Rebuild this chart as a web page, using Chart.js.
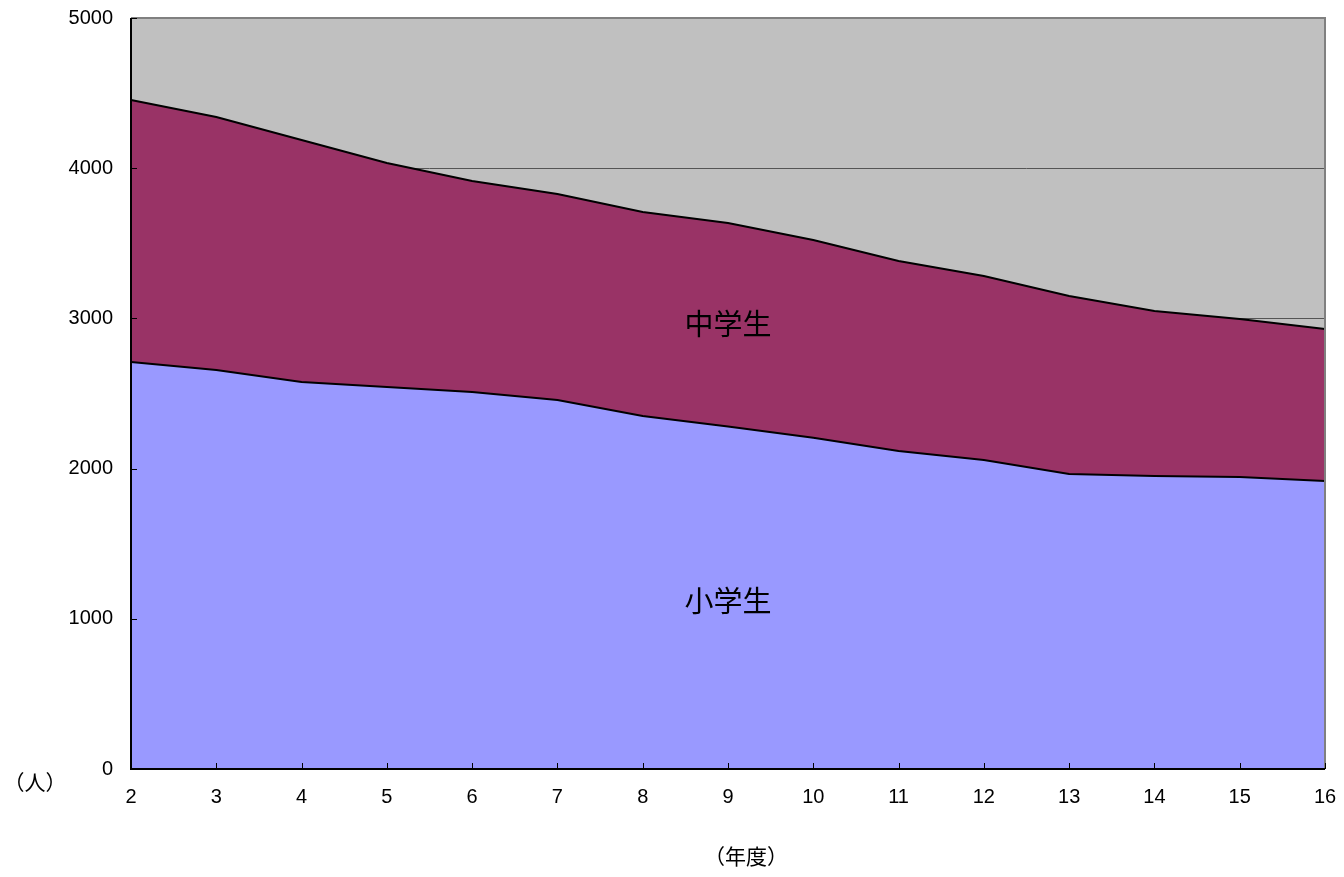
<!DOCTYPE html>
<html>
<head>
<meta charset="utf-8">
<script src="https://cdn.jsdelivr.net/npm/chart.js@4/dist/chart.umd.min.js"></script>
<style>
    body { margin: 0; background: #ffffff; }
    #wrap { width: 1344px; height: 877px; }
</style>
</head>
<body>
<div id="wrap"><canvas id="studentsChart"></canvas></div>
<script>
const years = ['2', '3', '4', '5', '6', '7', '8', '9', '10', '11', '12', '13', '14', '15', '16'];
const elementary = [2710, 2656, 2577, 2543, 2510, 2457, 2350, 2280, 2205, 2117, 2057, 1964, 1951, 1944, 1917];
const juniorHigh = [1744, 1685, 1611, 1492, 1405, 1371, 1358, 1355, 1317, 1265, 1225, 1185, 1098, 1052, 1012];
const yTicks = [0, 1000, 2000, 3000, 4000, 5000];

const tickFont = { family: '"Liberation Sans", Arial, sans-serif', size: 20 };
const cjkFont = '"Noto Sans CJK JP", "Noto Sans", sans-serif';

// plot background, border, inner tick marks and text labels
const decorations = {
    id: 'decorations',
    beforeDraw(chart) {
        const { ctx, chartArea: a } = chart;
        ctx.save();
        ctx.fillStyle = '#C0C0C0';
        ctx.fillRect(a.left, a.top, a.right - a.left, a.bottom - a.top);
        ctx.restore();
    },
    afterDatasetsDraw(chart) {
        const { ctx, chartArea: a, scales } = chart;
        ctx.save();
        // top / right frame
        ctx.strokeStyle = '#808080';
        ctx.lineWidth = 2;
        ctx.beginPath();
        ctx.moveTo(a.left, a.top);
        ctx.lineTo(a.right, a.top);
        ctx.lineTo(a.right, a.bottom);
        ctx.stroke();

        // left and bottom axis lines
        ctx.strokeStyle = '#000000';
        ctx.beginPath();
        ctx.moveTo(a.left, a.top);
        ctx.lineTo(a.left, a.bottom);
        ctx.lineTo(a.right, a.bottom);
        ctx.stroke();

        // inner tick marks
        ctx.lineWidth = 1;
        yTicks.forEach(function (v) {
            const y = Math.round(scales.y.getPixelForValue(v)) + 0.5;
            ctx.beginPath();
            ctx.moveTo(a.left, y);
            ctx.lineTo(a.left + 6, y);
            ctx.stroke();
        });
        years.forEach(function (label, i) {
            const x = Math.round(scales.x.getPixelForValue(i)) + 0.5;
            ctx.beginPath();
            ctx.moveTo(x, a.bottom);
            ctx.lineTo(x, a.bottom - 6);
            ctx.stroke();
        });

        // series labels inside the areas
        ctx.fillStyle = '#000000';
        ctx.textAlign = 'center';
        ctx.textBaseline = 'middle';
        ctx.font = '29px ' + cjkFont;
        const mid = scales.x.getPixelForValue(7);
        ctx.fillText('中学生', mid, scales.y.getPixelForValue(2960));
        ctx.fillText('小学生', mid, scales.y.getPixelForValue(1118));

        // axis titles
        ctx.font = '21px ' + cjkFont;
        ctx.fillText('（年度）', (a.left + a.right) / 2 + 18, 856);
        ctx.fillText('（人）', 35, 782);
        ctx.restore();
    }
};

new Chart(document.getElementById('studentsChart').getContext('2d'), {
    type: 'line',
    data: {
        labels: years,
        datasets: [
            {
                label: '小学生',
                data: elementary,
                backgroundColor: '#9999FF',
                borderColor: '#000000',
                borderWidth: 2,
                fill: 'origin',
                pointRadius: 0,
                tension: 0,
            },
            {
                label: '中学生',
                data: juniorHigh,
                backgroundColor: '#993366',
                borderColor: '#000000',
                borderWidth: 2,
                fill: '-1',
                pointRadius: 0,
                tension: 0,
            },
        ],
    },
    options: {
        responsive: true,
        maintainAspectRatio: false,
        animation: false,
        layout: { padding: { top: 18, right: 19, left: 0, bottom: 0 } },
        scales: {
            x: {
                offset: false,
                grid: { display: false, drawTicks: false },
                border: { display: false },
                ticks: { color: '#000000', font: tickFont, padding: 16, maxRotation: 0 },
                afterFit(scale) {
                    scale.height = 108;
                    scale.paddingLeft = 0;
                    scale.paddingRight = 0;
                },
            },
            y: {
                stacked: true,
                min: 0,
                max: 5000,
                grid: { color: '#555555', lineWidth: 1, drawTicks: false },
                border: { display: false },
                ticks: {
                    color: '#000000',
                    font: tickFont,
                    padding: 18,
                    stepSize: 1000,
                    callback: function (v) { return yTicks.includes(v) ? String(v) : ''; },
                },
                afterFit(scale) {
                    scale.width = 131;
                    scale.paddingTop = 0;
                    scale.paddingBottom = 0;
                },
            },
        },
        plugins: {
            legend: { display: false },
            tooltip: { enabled: false },
        },
    },
    plugins: [decorations],
});
</script>
</body>
</html>
